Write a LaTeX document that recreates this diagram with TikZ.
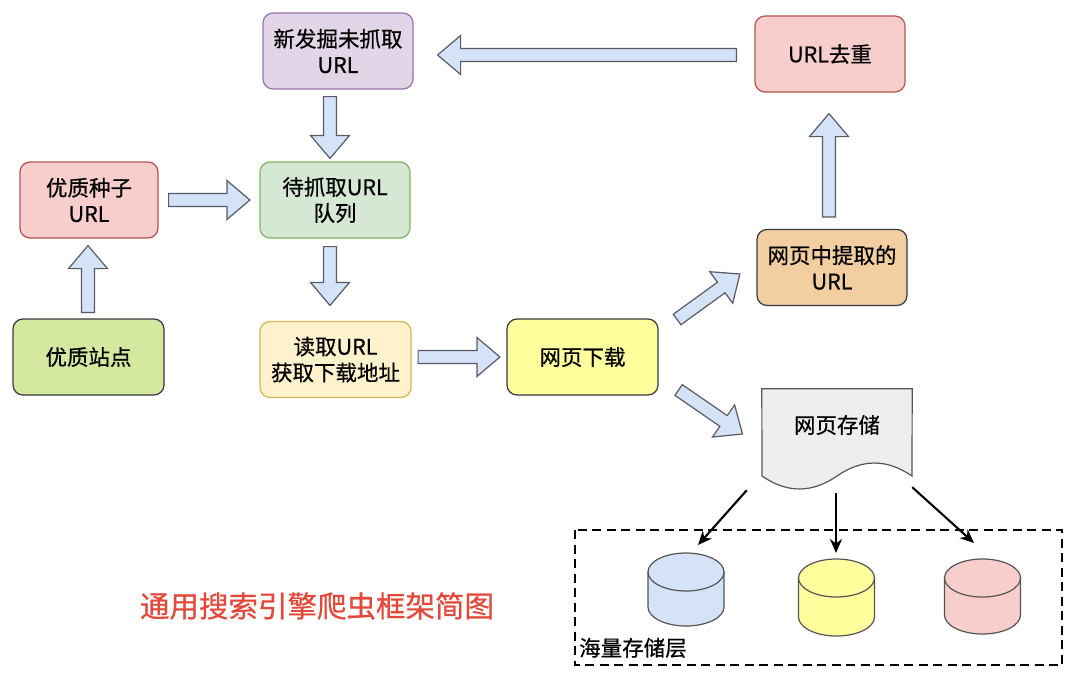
\documentclass[tikz,border=0pt]{standalone}
\usepackage{fontspec}
\setmainfont{Noto Sans CJK SC}[FakeBold=0.6]
\usetikzlibrary{calc,arrows.meta}
\definecolor{purfill}{HTML}{E1D5E7}\definecolor{purline}{HTML}{9673A6}
\definecolor{redfill}{HTML}{F8CECC}\definecolor{redline}{HTML}{B85450}
\definecolor{grnfill}{HTML}{D5E8D4}\definecolor{grnline}{HTML}{82B366}
\definecolor{yelfill}{HTML}{FFF2CC}\definecolor{yelline}{HTML}{D6B656}
\definecolor{orgfill}{HTML}{F2CEA0}\definecolor{darkline}{HTML}{36393D}
\definecolor{limefill}{HTML}{D5E8A0}\definecolor{ylwfill}{HTML}{FFFF9E}
\definecolor{bluefill}{HTML}{D4E3F8}\definecolor{arrline}{HTML}{5A5A64}
\definecolor{docfill}{HTML}{EEEEEE}\definecolor{docline}{HTML}{555555}
\definecolor{titlered}{HTML}{E2493B}
\tikzset{
  box/.style={draw, rounded corners=10pt, line width=1.2pt, minimum width=150pt,
    minimum height=76pt, align=center, inner sep=2pt,
    font=\fontsize{21.5}{26}\selectfont},
  blockarr/.style={draw=arrline, fill=bluefill, line width=1.2pt, line join=miter},
  blackarr/.style={-{Stealth[length=14pt,width=12pt]}, line width=2.1pt},
  cylst/.style={draw=docline, line width=1.2pt},
  lbl/.style={inner sep=0pt, font=\fontsize{21.5}{26}\selectfont},
}
\newcommand\blockarrow[2]{%
  \coordinate (bap) at ($(#2)!23pt!(#1)$);
  \draw[blockarr] ($(#1)!6.5pt!90:(#2)$) -- ($(bap)!6.5pt!90:(#2)$) -- ($(bap)!19.5pt!90:(#2)$) -- (#2)
    -- ($(bap)!19.5pt!-90:(#2)$) -- ($(bap)!6.5pt!-90:(#2)$) -- ($(#1)!6.5pt!-90:(#2)$) -- cycle;}
\newcommand\dbcyl[4]{%
  \draw[cylst, fill=#4] ({#1-38},{#2-19}) -- ({#1-38},{#3+19})
    arc[start angle=180,end angle=360,x radius=38pt,y radius=19pt] -- ({#1+38},{#2-19})
    arc[start angle=0,end angle=180,x radius=38pt,y radius=19pt] -- cycle;
  \draw[cylst] ({#1-38},{#2-19}) arc[start angle=180,end angle=360,x radius=38pt,y radius=19pt];}
\begin{document}
\begin{tikzpicture}[x=1pt,y=1pt]
\useasboundingbox (0,0) rectangle (1080,-686);
% nodes
\node[box, fill=purfill, draw=purline] (newurl) at (338,-51) {新发掘未抓取\\URL};
\node[box, fill=redfill, draw=redline] (dedup) at (830,-54) {URL去重};
\node[box, fill=redfill, draw=redline, minimum width=138pt] (seed) at (89,-200) {优质种子\\URL};
\node[box, fill=grnfill, draw=grnline] (queue) at (335,-200) {待抓取URL\\队列};
\node[box, fill=orgfill, draw=darkline] (extract) at (832,-267.5) {网页中提取的\\URL};
\node[box, fill=limefill, draw=darkline, minimum width=151pt] (site) at (88.5,-357) {优质站点};
\node[box, fill=yelfill, draw=yelline, minimum width=151pt] (read) at (335.5,-359.5) {读取URL\\获取下载地址};
\node[box, fill=ylwfill, draw=darkline, minimum width=151pt] (download) at (582.5,-357) {网页下载};
% document shape
\node[minimum width=150pt, minimum height=101pt, inner sep=0pt] (store) at (837,-439.5) {};
\draw[draw=docline, fill=docfill, line width=1.2pt] (store.north west) -- (store.north east) -- (912,-476)
  .. controls (887,-458.7) and (862,-458.7) .. (837,-476)
  .. controls (812,-493.3) and (787,-493.3) .. (762,-476) -- cycle;
\node[lbl] (storelbl) at (837,-425) {网页存储};
% storage layer
\draw[line width=2.2pt, dash pattern=on 9pt off 5.5pt] (575,-530) rectangle (1062,-665);
\node[lbl, anchor=base west] (layer) at (579,-656) {海量存储层};
\dbcyl{686}{-553}{-626}{bluefill}
\dbcyl{836.5}{-559}{-636}{ylwfill}
\dbcyl{982.5}{-559}{-634}{redfill}
\coordinate (cylA) at (686,-553);
\coordinate (cylB) at (836,-559);
\coordinate (cylC) at (982.5,-559);
% title
\node[inner sep=0pt, text=titlered, font=\fontsize{29.5}{34}\selectfont] (title) at (317,-606) {通用搜索引擎爬虫框架简图};
% block arrows
\coordinate (a1s) at ($(dedup.west)+(-18,-1)$);
\coordinate (a1e) at ($(newurl.east)+(24,-4)$);
\coordinate (a2s) at ($(newurl.south)+(-8,-7)$);
\coordinate (a2e) at ($(queue.north)+(-5,3)$);
\coordinate (a3s) at ($(seed.east)+(10,0)$);
\coordinate (a3e) at ($(queue.west)+(-9.5,0)$);
\coordinate (a4s) at ($(site.north)+(-0.5,6)$);
\coordinate (a4e) at ($(seed.south)+(-1,-7)$);
\coordinate (a5s) at ($(queue.south)+(-5,-8)$);
\coordinate (a5e) at ($(read.north)+(-5.5,15.5)$);
\coordinate (a6s) at ($(read.east)+(6.5,2.5)$);
\coordinate (a6e) at ($(download.west)+(-6.5,0)$);
\coordinate (a7s) at ($(download.east)+(18.5,37.5)$);
\coordinate (a7e) at ($(extract.west)+(-16.5,-6.5)$);
\coordinate (a8s) at ($(download.east)+(20,-33)$);
\coordinate (a8e) at ($(store.west)+(-19.3,5.5)$);
\coordinate (a9s) at ($(extract.north)+(-3,12)$);
\coordinate (a9e) at ($(dedup.south)+(-1,-21)$);
\blockarrow{a1s}{a1e}
\blockarrow{a2s}{a2e}
\blockarrow{a3s}{a3e}
\blockarrow{a4s}{a4e}
\blockarrow{a5s}{a5e}
\blockarrow{a6s}{a6e}
\blockarrow{a7s}{a7e}
\blockarrow{a8s}{a8e}
\blockarrow{a9s}{a9e}
% black arrows
\draw[blackarr] ($(store.south west)+(-15,0)$) -- ($(cylA)+(12,8)$);
\draw[blackarr] ($(store.south)+(-1,-3)$) -- ($(cylB)+(0,6)$);
\draw[blackarr] ($(store.south east)+(0,3)$) -- ($(cylC)+(-8.5,16)$);
\end{tikzpicture}
\end{document}
